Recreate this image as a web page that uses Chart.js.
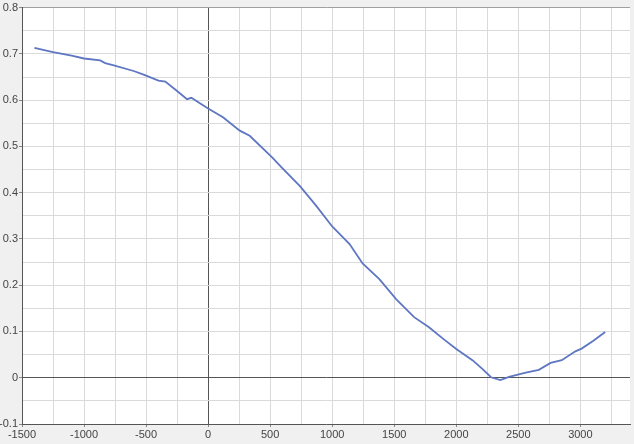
<!DOCTYPE html>
<html>
<head>
<meta charset="utf-8">
<script src="https://cdn.jsdelivr.net/npm/chart.js@4/dist/chart.umd.min.js"></script>
<style>
  html, body { margin: 0; padding: 0; background: #f0f0f0; }
  #wrap { width: 634px; height: 444px; }
</style>
</head>
<body>
<div id="wrap"><canvas id="plot" width="634" height="444"></canvas></div>
<script>
// Curve
const xValues = [-1400, -1250, -1100, -1000, -870, -830, -760, -600, -520, -400, -345, -265, -170, -135, -60,
  0, 120, 255, 335, 520, 590, 740, 870, 1000, 1140, 1245, 1380, 1515, 1660, 1780, 1900,
  2000, 2130, 2210, 2280, 2355, 2425, 2560, 2665, 2760, 2850, 2960, 3010, 3105, 3200];
const yValues = [0.713, 0.704, 0.696, 0.690, 0.686, 0.680, 0.675, 0.663, 0.655, 0.642, 0.640, 0.623, 0.602, 0.605, 0.592,
  0.582, 0.563, 0.534, 0.523, 0.475, 0.455, 0.414, 0.372, 0.327, 0.289, 0.247, 0.213, 0.170, 0.131, 0.109, 0.083,
  0.062, 0.038, 0.019, 0.001, -0.005, 0.002, 0.011, 0.017, 0.032, 0.038, 0.057, 0.063, 0.080, 0.099];

// Axis ticks (minor gridlines every half step, labels on the whole steps)
const xTicks = [-1500, -1250, -1000, -750, -500, -250, 0, 250, 500, 750, 1000, 1250, 1500, 1750,
  2000, 2250, 2500, 2750, 3000, 3250];
const xLabels = [-1500, -1000, -500, 0, 500, 1000, 1500, 2000, 2500, 3000];
const yTicks = [-0.1, -0.05, 0, 0.05, 0.1, 0.15, 0.2, 0.25, 0.3, 0.35, 0.4, 0.45, 0.5, 0.55, 0.6, 0.65, 0.7, 0.75, 0.8];
const yLabels = ['-0.1', '0', '0.1', '0.2', '0.3', '0.4', '0.5', '0.6', '0.7', '0.8'];

const points = xValues.map((x, i) => ({ x: x, y: yValues[i] }));

const gridLight = '#dadada';
const axisDark = '#555555';

// Grey page with a white plot area
const backdrop = {
  id: 'backdrop',
  beforeDraw(chart) {
    const c = chart.ctx, a = chart.chartArea;
    c.save();
    c.fillStyle = '#f0f0f0';
    c.fillRect(0, 0, chart.width, chart.height);
    c.fillStyle = '#ffffff';
    c.fillRect(a.left, a.top, a.right - a.left, a.bottom - a.top);
    c.restore();
  }
};

const ctx = document.getElementById('plot').getContext('2d');
new Chart(ctx, {
  type: 'line',
  data: {
    datasets: [{
      data: points,
      borderColor: '#5f76c2',
      borderWidth: 1.8,
      pointRadius: 0,
      tension: 0,
      fill: false
    }]
  },
  options: {
    responsive: false,
    animation: false,
    layout: { padding: { top: 7, right: 4, left: 0, bottom: 0 } },
    plugins: { legend: { display: false }, tooltip: { enabled: false } },
    scales: {
      x: {
        type: 'linear',
        min: -1500,
        max: 3400,
        afterBuildTicks: axis => { axis.ticks = xTicks.map(v => ({ value: v })); },
        afterFit: axis => { axis.height = 20; },
        border: { color: axisDark, width: 1 },
        grid: {
          color: c => (c.tick && c.tick.value === 0 ? axisDark : gridLight),
          tickLength: 3,
          tickColor: c => (c.tick && xLabels.includes(c.tick.value) ? '#888' : 'rgba(0,0,0,0)')
        },
        ticks: {
          autoSkip: false,
          maxRotation: 0,
          padding: 1,
          color: '#444',
          font: { family: '"Liberation Sans Narrow", "Liberation Sans", Arial, sans-serif', size: 11 },
          callback: v => (xLabels.includes(v) ? String(v) : '')
        }
      },
      y: {
        min: -0.1,
        max: 0.8,
        afterBuildTicks: axis => { axis.ticks = yTicks.map(v => ({ value: v })); },
        afterFit: axis => { axis.width = 22; },
        border: { color: axisDark, width: 1 },
        grid: {
          color: c => {
            if (!c.tick) return gridLight;
            if (Math.abs(c.tick.value) < 1e-9) return axisDark;
            if (Math.abs(c.tick.value - 0.8) < 1e-9) return '#a0a0a0';
            return gridLight;
          },
          tickLength: 3,
          tickColor: c => (c.tick && Math.round(c.tick.value * 100) % 10 === 0 ? '#888' : 'rgba(0,0,0,0)')
        },
        ticks: {
          autoSkip: false,
          padding: 1,
          color: '#444',
          font: { family: '"Liberation Sans Narrow", "Liberation Sans", Arial, sans-serif', size: 11 },
          callback: v => {
            const r = Math.round(v * 100);
            return r % 10 === 0 ? String(r / 100) : '';
          }
        }
      }
    }
  },
  plugins: [backdrop]
});
</script>
</body>
</html>
